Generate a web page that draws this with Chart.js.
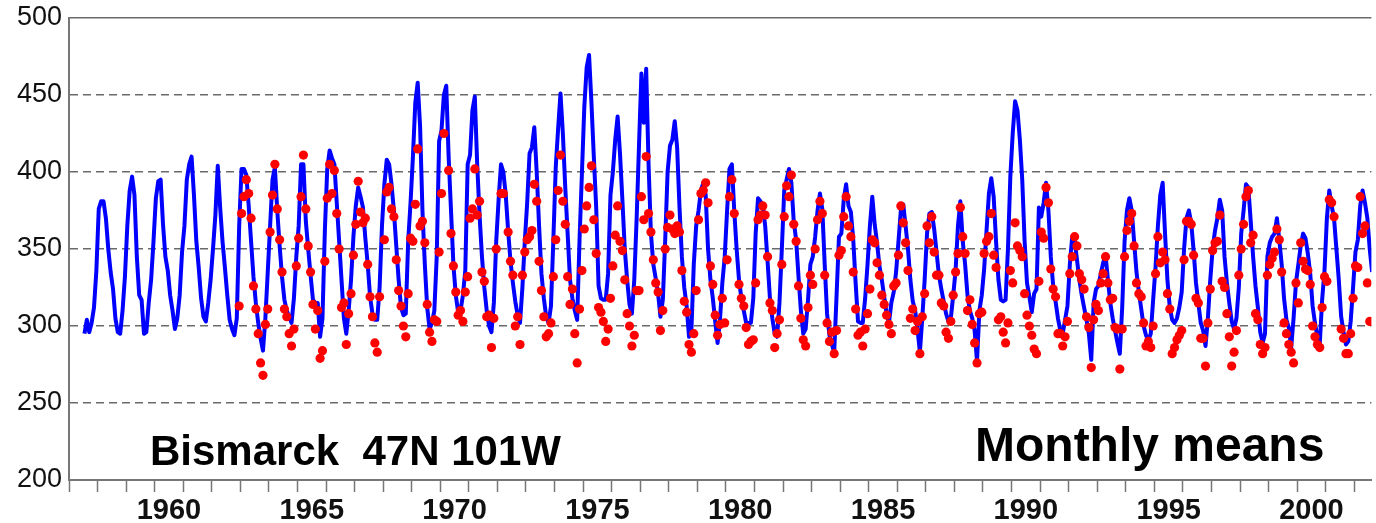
<!DOCTYPE html>
<html>
<head>
<meta charset="utf-8">
<script src="https://cdn.jsdelivr.net/npm/chart.js@4/dist/chart.umd.min.js"></script>
<style>
  html, body { margin: 0; padding: 0; background: #fff; }
  #wrap { position: relative; width: 1376px; height: 523px; overflow: hidden; }
  .note { position: absolute; font-family: "Liberation Sans", Arial, Helvetica, sans-serif;
          font-weight: bold; color: #000; white-space: pre; line-height: 1; }
</style>
</head>
<body>
<div id="wrap">
  <canvas id="ozoneChart" width="1376" height="523"></canvas>
  <div class="note" id="station" style="left:150px; top:430px; font-size:42px;"></div>
  <div class="note" id="kind" style="left:975px; top:421px; font-size:48px;"></div>
</div>
<script>
// Bismarck total ozone, monthly means (blue line), Jan..Dec per year
const firstYear = 1957;
const monthlyMeans = [
  [null, null, null, null, null, null, 295, 304, 296, 302, 312, 336], // 1957
  [376, 381, 381, 370, 350, 335, 324, 305, 296, 295, 310, 332],
  [365, 388, 397, 385, 345, 320, 317, 295, 296, 315, 330, 355],
  [383, 394, 395, 366, 345, 336, 320, 310, 298, 305, 320, 348], // 1960
  [365, 395, 405, 410, 385, 355, 338, 318, 306, 303, 315, 330],
  [350, 372, 404, 377, 355, 338, 320, 304, 298, 294, 305, 365],
  [402, 402, 398, 378, 355, 332, 315, 302, 292, 284, 305, 335],
  [365, 395, 403, 375, 352, 332, 317, 310, 306, 302, 318, 345],
  [365, 405, 405, 368, 350, 333, 317, 315, 315, 293, 305, 362], // 1965
  [402, 414, 409, 405, 380, 355, 330, 305, 295, 310, 330, 358],
  [378, 390, 384, 377, 357, 340, 319, 308, 304, 304, 325, 365],
  [392, 408, 405, 392, 375, 352, 330, 312, 307, 308, 355, 380],
  [410, 445, 458, 430, 375, 340, 312, 298, 302, 310, 345, 420],
  [427, 450, 456, 410, 375, 340, 320, 309, 310, 320, 336, 405], // 1970
  [411, 440, 449, 405, 372, 345, 325, 310, 300, 296, 315, 355],
  [382, 405, 400, 385, 362, 342, 328, 316, 307, 302, 325, 355],
  [380, 412, 416, 429, 400, 365, 334, 318, 306, 302, 313, 356],
  [403, 428, 451, 425, 390, 360, 330, 318, 310, 304, 356, 399],
  [442, 468, 476, 445, 410, 377, 326, 318, 317, 317, 334, 385], // 1975
  [400, 421, 436, 412, 382, 350, 330, 314, 308, 330, 370, 418],
  [464, 432, 467, 405, 360, 340, 331, 321, 306, 317, 356, 400],
  [417, 421, 433, 416, 377, 345, 325, 313, 293, 297, 340, 365],
  [375, 388, 393, 385, 350, 330, 318, 303, 289, 304, 328, 345],
  [375, 402, 405, 375, 350, 330, 318, 310, 302, 302, 302, 318], // 1980
  [360, 383, 381, 378, 365, 342, 318, 305, 295, 293, 315, 350],
  [388, 395, 402, 393, 368, 356, 332, 310, 295, 298, 317, 340],
  [345, 358, 375, 386, 376, 340, 308, 294, 288, 283, 320, 358],
  [360, 382, 392, 378, 374, 356, 328, 303, 302, 302, 318, 340],
  [365, 384, 366, 354, 339, 330, 319, 308, 302, 315, 322, 335], // 1985
  [355, 375, 379, 365, 350, 330, 316, 310, 298, 283, 305, 330],
  [360, 373, 374, 363, 348, 333, 324, 316, 308, 303, 305, 320],
  [336, 365, 381, 355, 340, 320, 310, 305, 297, 277, 310, 320],
  [337, 362, 386, 396, 384, 355, 330, 317, 316, 317, 350, 397],
  [425, 446, 440, 421, 395, 355, 328, 319, 309, 321, 324, 377], // 1990
  [371, 380, 393, 375, 345, 326, 316, 305, 297, 295, 304, 313],
  [340, 358, 356, 343, 330, 320, 312, 304, 295, 278, 315, 324],
  [326, 334, 341, 346, 330, 315, 305, 297, 289, 282, 312, 355],
  [375, 383, 375, 355, 335, 322, 311, 300, 294, 291, 295, 317],
  [338, 365, 385, 393, 360, 330, 312, 304, 302, 305, 312, 322], // 1995
  [350, 370, 375, 367, 349, 328, 315, 302, 297, 287, 305, 330],
  [350, 362, 370, 382, 375, 345, 328, 315, 303, 298, 305, 325],
  [360, 375, 392, 390, 368, 345, 326, 312, 296, 289, 295, 345],
  [354, 358, 360, 370, 356, 340, 318, 304, 299, 286, 305, 328],
  [340, 352, 360, 357, 347, 334, 313, 302, 293, 288, 317, 336], // 2000
  [370, 388, 378, 370, 350, 330, 306, 296, 288, 290, 303, 325],
  [348, 356, 378, 388, 380, 370, 350, 335]
];

// red dots, Jan..Dec per year
const firstDotYear = 1962;
const dotMeans = [
  [null, null, null, null, null, null, null, null, null, null, null, 313], // 1962
  [373, 384, 395, 386, 370, 326, 311, 295, 276, 268, 301, 311],
  [361, 385, 405, 376, 356, 335, 311, 306, 295, 287, 298, 339],
  [357, 384, 411, 376, 352, 335, 314, 298, 310, 279, 284, 342], // 1965
  [383, 405, 386, 401, 373, 350, 312, 315, 288, 308, 321, 346],
  [366, 394, 374, 367, 370, 340, 319, 306, 289, 283, 319, null],
  [356, 387, 390, 376, 371, 343, 323, 313, 300, 293, 321, 357],
  [355, 379, 415, 365, 368, 354, 314, 296, 290, 304, 303, 348],
  [386, 425, null, 401, 360, 339, 322, 307, 310, 303, 322, 332], // 1970
  [370, 376, 402, 372, 381, 335, 329, 306, 307, 286, 305, 350],
  [null, 386, 386, null, 361, 342, 333, 300, 306, 288, 333, 348],
  [356, 358, 362, 392, 381, 342, 323, 306, 293, 295, 302, 332],
  [356, 388, 411, 381, 366, 332, 314, 324, 295, 276, 311, 336],
  [363, 378, 390, 404, 369, 347, 312, 309, 303, 290, 298, 318], // 1975
  [339, 359, 378, 355, 349, 330, 308, 300, 287, 294, 323, 323],
  [384, 369, 410, 373, 361, 343, 328, 322, 297, 310, 350, 364],
  [372, 363, 360, 365, 361, 336, 316, 309, 288, 283, 295, 323],
  [369, 386, 388, 393, 380, 339, 327, 307, 294, 301, 318, 302],
  [343, 384, 395, 373, null, 327, 318, 313, 299, 288, 290, 291], // 1980
  [328, 369, 372, 378, 372, 345, 315, 310, 286, 295, 304, 340],
  [371, 391, 384, 398, 366, 355, 326, 305, 291, 287, 312, 333],
  [327, 350, 369, 381, 373, 333, 302, 290, 296, 282, 297, 346],
  [349, 371, 384, 365, 358, 335, 311, 294, 296, 287, 298, 308],
  [324, 356, 354, 341, 333, 320, 314, 307, 301, 295, 326, 328], // 1985
  [346, 378, 367, 354, 336, 305, 311, 297, 303, 282, 306, 321],
  [365, 354, 371, 348, 333, 333, 315, 313, 296, 292, 303, 320],
  [335, 347, 377, 358, 347, 310, 317, 301, 289, 276, 308, 309],
  [347, 355, 358, 373, 346, 338, 304, 306, 296, 289, 302, 336],
  [328, 367, 352, 349, 345, 321, 307, 300, 294, 285, 282, 329], // 1990
  [361, 357, 390, 380, 337, 324, 319, 295, 295, 287, 293, 303],
  [334, 345, 358, 352, 334, 330, 324, 306, 299, 273, 304, 314],
  [310, 328, 334, 345, 328, 317, 318, 299, 298, 272, 298, 345],
  [362, 368, 373, 352, 328, 321, 319, 302, 287, 290, 286, 300],
  [334, 358, 341, 348, 343, 321, 311, 282, 286, 291, 294, 297], // 1995
  [343, 368, 368, 366, 346, 318, 315, 292, 292, 274, 302, 324],
  [349, 354, 355, 372, 329, 325, 308, 293, 274, 283, 297, 333],
  [350, 366, 384, 388, 354, 359, 308, 304, 288, 282, 286, 333],
  [340, 344, 348, 363, 356, 335, 302, 295, 288, 283, 276, 328],
  [315, 354, 342, 337, 336, 327, 300, 293, 288, 286, 312, 332], // 2000
  [329, 382, 380, 371, null, null, 298, 292, 282, 282, 295, 318],
  [339, 338, 384, 360, 365, 328, 303]
];

const xTickYears = [1960, 1965, 1970, 1975, 1980, 1985, 1990, 1995, 2000];
const yTickValues = [200, 250, 300, 350, 400, 450, 500];
const stationLabel = 'Bismarck  47N 101W';
const seriesLabel = 'Monthly means';

function toPoints(rows, startYear) {
  const pts = [];
  rows.forEach((row, i) => {
    row.forEach((v, m) => {
      if (v !== null) pts.push({ x: startYear + i + (m + 0.5) / 12, y: v });
    });
  });
  return pts;
}

const yearTicks = [];
for (let y = 1957; y <= 2002; y++) yearTicks.push(y);

document.getElementById('station').textContent = stationLabel;
document.getElementById('kind').textContent = seriesLabel;

Chart.defaults.font.family = '"Liberation Sans", Arial, Helvetica, sans-serif';

const ctx = document.getElementById('ozoneChart').getContext('2d');
new Chart(ctx, {
  data: {
    datasets: [
      {
        type: 'scatter',
        data: toPoints(dotMeans, firstDotYear),
        pointRadius: 4.6,
        pointBackgroundColor: '#ff0000',
        pointBorderWidth: 0
      },
      {
        type: 'line',
        data: toPoints(monthlyMeans, firstYear),
        borderColor: '#0000ff',
        borderWidth: 4,
        borderJoinStyle: 'round',
        pointRadius: 0,
        tension: 0,
        fill: false
      }
    ]
  },
  options: {
    responsive: false,
    animation: false,
    layout: { padding: { top: 18, right: 0, bottom: 0, left: 0 } },
    plugins: { legend: { display: false }, tooltip: { enabled: false } },
    scales: {
      x: {
        type: 'linear',
        min: 1957,
        max: 2002.6,
        afterBuildTicks: s => { s.ticks = yearTicks.map(v => ({ value: v })); },
        afterFit: s => { s.height = 43; s.paddingLeft = 0; s.paddingRight = 0; },
        ticks: {
          autoSkip: false,
          maxRotation: 0,
          labelOffset: 14.3,
          padding: 2,
          color: '#111',
          font: { size: 29, weight: 'bold' },
          callback: v => xTickYears.includes(v) ? String(v) : ''
        },
        grid: { drawOnChartArea: false, drawTicks: true, tickLength: 12, tickColor: '#777', tickWidth: 1.5 },
        border: { color: '#777', width: 2 }
      },
      y: {
        min: 200,
        max: 500,
        afterBuildTicks: s => { s.ticks = yTickValues.map(v => ({ value: v })); },
        afterFit: s => { s.width = 69; s.paddingTop = 0; s.paddingBottom = 0; },
        ticks: { color: '#111', font: { size: 27 }, padding: 7 },
        grid: { color: '#6a6a6a', lineWidth: 1.5, drawTicks: false },
        border: {
          color: '#777',
          width: 2,
          dash: c => (c.tick && (c.tick.value === 500 || c.tick.value === 200)) ? [] : [8, 5]
        }
      }
    }
  }
});
</script>
</body>
</html>
